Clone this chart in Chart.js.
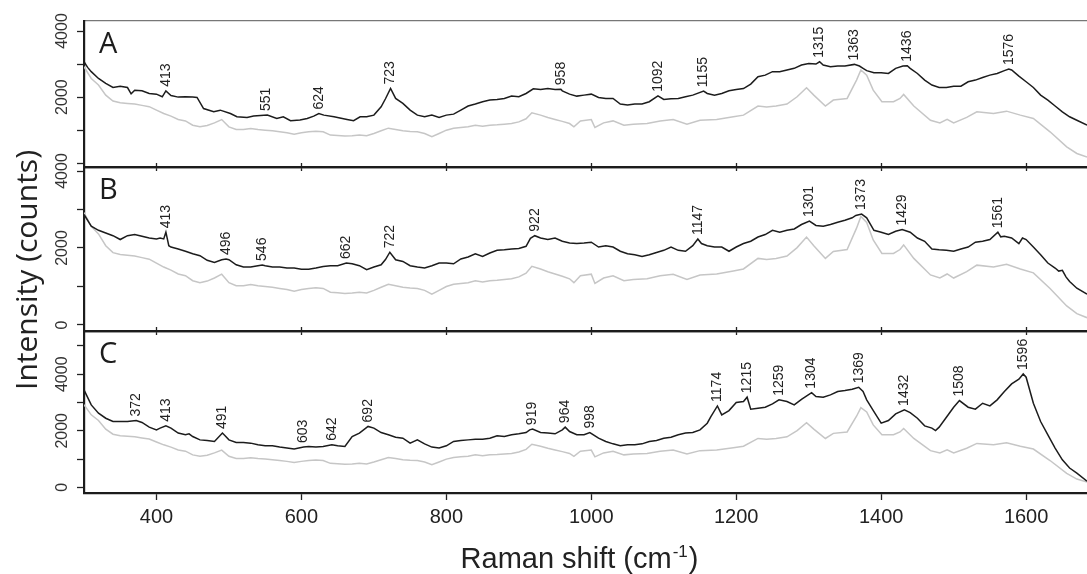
<!DOCTYPE html>
<html><head><meta charset="utf-8">
<script src="https://cdn.jsdelivr.net/npm/chart.js@4.4.1/dist/chart.umd.min.js"></script>
<style>
html,body{margin:0;padding:0;background:#fff;}
#wrap{position:relative;width:1087px;height:574px;overflow:hidden;background:#fff;}
canvas{position:absolute;left:0;top:0;}
</style>
</head><body>
<div id="wrap">
<canvas id="cA" width="1087" height="574"></canvas>
<canvas id="cB" width="1087" height="574"></canvas>
<canvas id="cC" width="1087" height="574"></canvas>
</div>
<script>
// ---------- DATA ----------
// Reference spectrum (grey), identical in all panels: [Raman shift, intensity]
const spectrumRef = [[300,2920],[310,2565],[320,2365],[330,2060],[340,1880],[350,1830],[360,1810],[370,1790],[380,1750],[390,1710],[400,1605],[410,1505],[420,1425],[430,1325],[440,1280],[450,1150],[460,1100],[470,1140],[480,1220],[490,1320],[500,1100],[510,1020],[520,1020],[530,1050],[540,1020],[550,1000],[560,980],[570,950],[580,920],[590,880],[600,920],[610,950],[620,970],[630,950],[640,850],[650,840],[660,820],[670,830],[680,850],[690,830],[700,900],[710,980],[720,1060],[730,1020],[740,980],[750,960],[760,950],[770,900],[780,800],[790,900],[800,1000],[810,1060],[820,1080],[830,1100],[840,1150],[850,1120],[860,1150],[870,1160],[880,1180],[890,1200],[900,1250],[910,1345],[918,1525],[930,1455],[940,1385],[950,1325],[960,1265],[970,1200],[976,1100],[985,1280],[1000,1320],[1005,1080],[1017,1220],[1030,1280],[1045,1150],[1058,1180],[1077,1200],[1095,1280],[1113,1320],[1132,1180],[1150,1300],[1173,1325],[1196,1405],[1210,1455],[1230,1730],[1242,1700],[1255,1730],[1270,1790],[1284,2010],[1297,2285],[1307,2060],[1323,1730],[1334,1910],[1353,1960],[1366,2515],[1372,2820],[1380,2665],[1389,2210],[1401,1860],[1417,1860],[1426,1960],[1431,2080],[1445,1730],[1468,1300],[1481,1220],[1491,1325],[1500,1220],[1518,1385],[1532,1555],[1555,1505],[1573,1575],[1592,1455],[1610,1355],[1633,950],[1656,495],[1670,295],[1684,190]];

const spectrumA = [[300,3070],[305,2900],[310,2770],[320,2565],[330,2415],[340,2290],[350,2330],[360,2290],[365,2100],[370,2210],[380,2190],[390,2110],[400,2090],[408,2010],[413,2190],[420,2050],[430,2000],[440,2010],[450,2000],[456,1990],[465,1655],[479,1555],[488,1605],[502,1505],[511,1405],[525,1385],[534,1425],[553,1455],[566,1355],[575,1405],[585,1285],[598,1305],[608,1355],[617,1425],[624,1505],[631,1455],[645,1405],[663,1325],[672,1285],[681,1405],[690,1405],[700,1455],[710,1705],[716,1950],[723,2260],[730,1960],[740,1810],[750,1605],[760,1455],[770,1405],[780,1455],[790,1385],[800,1455],[810,1485],[820,1605],[830,1730],[840,1790],[850,1860],[860,1910],[870,1930],[880,1960],[890,2030],[900,2010],[910,2110],[920,2250],[930,2230],[940,2260],[950,2230],[958,2240],[960,2190],[970,2090],[980,2030],[990,2060],[1000,2090],[1010,1990],[1020,1960],[1030,1960],[1040,1790],[1050,1760],[1060,1790],[1070,1790],[1080,1860],[1092,2040],[1100,1930],[1110,1950],[1120,1960],[1130,2010],[1140,2060],[1155,2180],[1160,2110],[1170,2060],[1180,2110],[1190,2190],[1200,2230],[1210,2260],[1220,2395],[1230,2615],[1240,2665],[1250,2770],[1260,2770],[1270,2820],[1280,2870],[1290,2970],[1300,3020],[1310,3000],[1315,3070],[1320,2970],[1330,2920],[1340,2940],[1350,2940],[1363,2990],[1370,2940],[1375,2870],[1380,2800],[1390,2740],[1400,2740],[1410,2715],[1420,2870],[1430,2940],[1436,2950],[1440,2870],[1450,2715],[1460,2515],[1470,2365],[1480,2290],[1490,2290],[1500,2330],[1510,2330],[1520,2465],[1530,2515],[1540,2595],[1550,2665],[1560,2715],[1570,2800],[1576,2850],[1580,2820],[1590,2635],[1600,2465],[1610,2290],[1620,2060],[1630,1910],[1640,1730],[1650,1555],[1660,1405],[1670,1300],[1684,1150]];

const spectrumB = [[300,2870],[310,2565],[320,2460],[330,2390],[340,2320],[350,2220],[360,2320],[370,2350],[380,2305],[390,2260],[400,2235],[405,2260],[410,2235],[413,2410],[417,2060],[420,2025],[430,1975],[440,1915],[450,1850],[460,1800],[470,1680],[480,1625],[490,1695],[496,1715],[500,1695],[510,1565],[520,1505],[530,1505],[540,1540],[546,1560],[550,1540],[560,1505],[570,1505],[580,1480],[590,1480],[600,1450],[610,1450],[620,1480],[630,1520],[640,1540],[650,1540],[662,1610],[670,1590],[680,1540],[690,1435],[700,1505],[710,1565],[716,1700],[722,1890],[730,1695],[740,1650],[750,1540],[760,1505],[770,1480],[780,1540],[790,1610],[800,1610],[810,1590],[820,1715],[830,1765],[840,1850],[850,1780],[860,1870],[870,1940],[880,1955],[890,1975],[900,1990],[910,2045],[916,2250],[922,2320],[930,2260],[940,2220],[950,2260],[960,2175],[970,2130],[980,2115],[990,2130],[1000,2150],[1010,2025],[1020,2060],[1030,2025],[1040,1915],[1050,1850],[1060,1825],[1070,1780],[1080,1825],[1090,1885],[1100,1940],[1110,2025],[1120,1940],[1130,1915],[1140,2060],[1147,2235],[1152,2115],[1160,2060],[1170,2025],[1180,2025],[1190,1915],[1200,2025],[1210,2115],[1220,2175],[1230,2285],[1240,2350],[1250,2460],[1260,2410],[1270,2460],[1280,2495],[1290,2610],[1301,2700],[1310,2585],[1320,2565],[1330,2610],[1340,2670],[1350,2720],[1360,2785],[1365,2845],[1373,2880],[1380,2785],[1390,2460],[1400,2410],[1410,2350],[1420,2435],[1429,2480],[1440,2410],[1450,2260],[1460,2175],[1470,1975],[1480,1955],[1490,1940],[1500,1915],[1510,1975],[1520,2025],[1530,2150],[1540,2175],[1550,2220],[1561,2410],[1565,2290],[1570,2305],[1580,2260],[1590,2115],[1595,2260],[1600,2220],[1610,2025],[1620,1825],[1630,1610],[1640,1480],[1645,1400],[1650,1420],[1655,1250],[1660,1130],[1670,955],[1684,800]];

const spectrumC = [[300,3445],[310,2915],[320,2625],[330,2445],[340,2330],[350,2330],[360,2330],[372,2365],[380,2295],[390,2130],[400,2035],[405,2095],[413,2175],[420,2095],[430,1920],[440,1860],[445,1895],[450,1800],[460,1680],[470,1660],[480,1625],[491,1920],[495,1820],[500,1680],[510,1590],[520,1590],[530,1565],[540,1505],[550,1470],[560,1470],[570,1425],[580,1390],[590,1355],[603,1425],[610,1445],[620,1425],[630,1445],[642,1505],[650,1470],[660,1445],[670,1800],[680,1920],[692,2155],[700,2095],[710,1940],[720,1860],[730,1775],[740,1740],[750,1565],[760,1680],[770,1540],[780,1425],[790,1390],[800,1470],[810,1625],[820,1660],[830,1680],[840,1705],[850,1705],[860,1740],[870,1825],[880,1800],[890,1860],[900,1895],[910,1940],[915,2035],[919,2060],[930,1940],[940,1920],[950,1895],[960,2035],[964,2130],[970,1975],[980,1860],[990,1860],[998,1940],[1010,1740],[1020,1625],[1030,1540],[1040,1470],[1050,1505],[1060,1505],[1070,1540],[1080,1625],[1090,1660],[1100,1740],[1110,1775],[1120,1860],[1130,1920],[1140,1940],[1150,2035],[1160,2270],[1165,2505],[1174,2880],[1180,2565],[1190,2715],[1200,3000],[1210,3035],[1215,3190],[1220,2765],[1230,2800],[1240,2835],[1250,2950],[1259,3095],[1270,3035],[1280,2915],[1290,3115],[1304,3350],[1310,3210],[1320,3190],[1330,3270],[1340,3390],[1350,3425],[1360,3470],[1369,3540],[1375,3390],[1380,3095],[1390,2680],[1400,2270],[1410,2365],[1420,2600],[1432,2740],[1440,2645],[1450,2445],[1460,2175],[1470,2095],[1475,2010],[1480,2130],[1490,2480],[1500,2835],[1508,3070],[1520,2835],[1530,2765],[1540,2975],[1550,2880],[1560,3095],[1570,3390],[1580,3660],[1590,3825],[1596,4010],[1600,3895],[1610,2975],[1620,2330],[1630,1860],[1640,1390],[1650,975],[1660,685],[1670,505],[1684,220]];

// Peak annotations (cm-1)
const peaksA = [413, 551, 624, 723, 958, 1092, 1155, 1315, 1363, 1436, 1576];
const peaksB = [413, 496, 546, 662, 722, 922, 1147, 1301, 1373, 1429, 1561];
const peaksC = [372, 413, 491, 603, 642, 692, 919, 964, 998, 1174, 1215, 1259, 1304, 1369, 1432, 1508, 1596];

// Ticks
const xTicks = [400, 600, 800, 1000, 1200, 1400, 1600];
const yTicksA = [0, 1000, 2000, 3000, 4000];
const yLabelsA = [2000, 4000];
const yTicksB = [0, 1000, 2000, 3000, 4000];
const yLabelsB = [0, 2000, 4000];
const yTicksC = [0, 1000, 2000, 3000, 4000, 5000];
const yLabelsC = [0, 2000, 4000];

const panelLetters = ['A', 'B', 'C'];
const xTitle = 'Raman shift (cm';
const xTitleSup = '-1';
const yTitle = 'Intensity (counts)';

// ---------- LAYOUT / STYLE ----------
const W = 1087, H = 574, PLOT_LEFT = 84;
const X_MIN = 300, X_MAX = 1684;
const BLACK = '#1c1c1c', GREY = '#c6c6c6';
const TICK_FONT = '"Liberation Sans", Arial, sans-serif';

const panelDefs = [
  {id:'cA', letter:panelLetters[0], spectrum:spectrumA, peaks:peaksA, yTicks:yTicksA, yLabels:yLabelsA,
   top:21, bottom:167, ymin:-115, ymax:4303, showX:false, topThin:true, topTick:0, bottomTick:4},
  {id:'cB', letter:panelLetters[1], spectrum:spectrumB, peaks:peaksB, yTicks:yTicksB, yLabels:yLabelsB,
   top:167, bottom:331, ymin:-156, ymax:4104, showX:false, topThin:false, topTick:4, bottomTick:4},
  {id:'cC', letter:panelLetters[2], spectrum:spectrumC, peaks:peaksC, yTicks:yTicksC, yLabels:yLabelsC,
   top:331, bottom:493, ymin:-198, ymax:5529, showX:true, topThin:false, topTick:4, bottomTick:7, titles:true},
];

function peakBase(spec, pk) {
  let best = null;
  for (const [x, y] of spec) if (Math.abs(x - pk) <= 6 && (best === null || y > best)) best = y;
  if (best !== null) return best;
  for (let i = 1; i < spec.length; i++) {
    if (spec[i][0] >= pk) {
      const [x0, y0] = spec[i-1], [x1, y1] = spec[i];
      return y0 + (y1 - y0) * (pk - x0) / (x1 - x0);
    }
  }
  return spec[spec.length-1][1];
}

function makeDeco(def) {
  return {
    id: 'deco_' + def.id,
    afterDatasetsDraw(chart) {
      const {ctx, chartArea, scales} = chart;
      ctx.save();
      ctx.fillStyle = BLACK;
      // panel letter
      ctx.font = '29px "Open Sans", sans-serif';
      ctx.textAlign = 'left';
      ctx.textBaseline = 'alphabetic';
      ctx.fillText(def.letter, chartArea.left + 15, chartArea.top + 32);
      // peak labels
      ctx.font = '14px ' + TICK_FONT;
      ctx.fillStyle = '#222';
      for (const pk of def.peaks) {
        const v = peakBase(def.spectrum, pk);
        const px = scales.x.getPixelForValue(pk);
        const py = scales.y.getPixelForValue(v) - 4;
        ctx.save();
        ctx.translate(px, py);
        ctx.rotate(-Math.PI / 2);
        ctx.textAlign = 'left';
        ctx.textBaseline = 'middle';
        ctx.fillText(String(pk), 0, 0);
        ctx.restore();
      }
      if (def.titles) {
        // y title
        ctx.save();
        ctx.fillStyle = '#222';
        ctx.font = '30px "Open Sans", sans-serif';
        ctx.translate(37, 270);
        ctx.rotate(-Math.PI / 2);
        ctx.textAlign = 'center';
        ctx.textBaseline = 'alphabetic';
        ctx.fillText(yTitle, 0, 0);
        ctx.restore();
        // x title with superscript
        ctx.save();
        ctx.fillStyle = '#222';
        const mainFont = '29px ' + TICK_FONT, supFont = '17px ' + TICK_FONT;
        ctx.font = mainFont; const w1 = ctx.measureText(xTitle).width; const w3 = ctx.measureText(')').width;
        ctx.font = supFont; const w2 = ctx.measureText(xTitleSup).width;
        let x0 = 578.5 - (w1 + w2 + w3) / 2;
        const base = 568;
        ctx.textAlign = 'left'; ctx.textBaseline = 'alphabetic';
        ctx.font = mainFont; ctx.fillText(xTitle, x0, base);
        ctx.font = supFont; ctx.fillText(xTitleSup, x0 + w1 + 1, base - 11);
        ctx.font = mainFont; ctx.fillText(')', x0 + w1 + w2 + 2, base);
        ctx.restore();
      }
      ctx.restore();
    }
  };
}

Chart.defaults.font.family = TICK_FONT;

for (const def of panelDefs) {
  new Chart(document.getElementById(def.id), {
    type: 'line',
    data: {
      datasets: [
        {data: def.spectrum.map(([x, y]) => ({x, y})), borderColor: BLACK, borderWidth: 1.5,
         pointRadius: 0, tension: 0, fill: false},
        {data: spectrumRef.map(([x, y]) => ({x, y})), borderColor: GREY, borderWidth: 1.5,
         pointRadius: 0, tension: 0, fill: false},
      ]
    },
    options: {
      responsive: false,
      animation: false,
      events: [],
      layout: {padding: 0, autoPadding: false},
      plugins: {legend: {display: false}, tooltip: {enabled: false}},
      scales: {
        x: {
          type: 'linear', position: 'bottom', min: X_MIN, max: X_MAX,
          afterBuildTicks: s => { s.ticks = xTicks.map(v => ({value: v})); },
          afterFit: s => { s.height = H - def.bottom; },
          grid: {drawOnChartArea: false, drawTicks: true, tickLength: def.bottomTick, tickColor: '#222', tickWidth: 1.3},
          border: {display: true, color: BLACK, width: 2.2},
          ticks: {display: def.showX, autoSkip: false, maxRotation: 0, minRotation: 0,
                  font: {size: 20, family: TICK_FONT}, color: '#222', padding: 5,
                  callback: v => String(v)}
        },
        xTop: {
          type: 'linear', position: 'top', min: X_MIN, max: X_MAX,
          afterBuildTicks: s => { s.ticks = def.topThin ? [] : xTicks.map(v => ({value: v})); },
          afterFit: s => { s.height = def.top; },
          grid: {drawOnChartArea: false, drawTicks: !def.topThin, tickLength: def.topTick || 1, tickColor: '#222', tickWidth: 1.3},
          border: {display: true, color: def.topThin ? '#777' : BLACK, width: def.topThin ? 1.2 : 2.2},
          ticks: {display: false}
        },
        y: {
          type: 'linear', position: 'left', min: def.ymin, max: def.ymax,
          afterBuildTicks: s => { s.ticks = def.yTicks.map(v => ({value: v})); },
          afterFit: s => { s.width = PLOT_LEFT; },
          grid: {drawOnChartArea: false, drawTicks: true, tickLength: 7, tickColor: '#222', tickWidth: 1.3},
          border: {display: true, color: BLACK, width: 2.2},
          ticks: {autoSkip: false, minRotation: 90, maxRotation: 90, crossAlign: 'center', padding: -3,
                  font: {size: 16, family: TICK_FONT}, color: '#333',
                  callback: v => def.yLabels.includes(v) ? String(v) : ''}
        }
      }
    },
    plugins: [makeDeco(def)]
  });
}
</script>
</body></html>
